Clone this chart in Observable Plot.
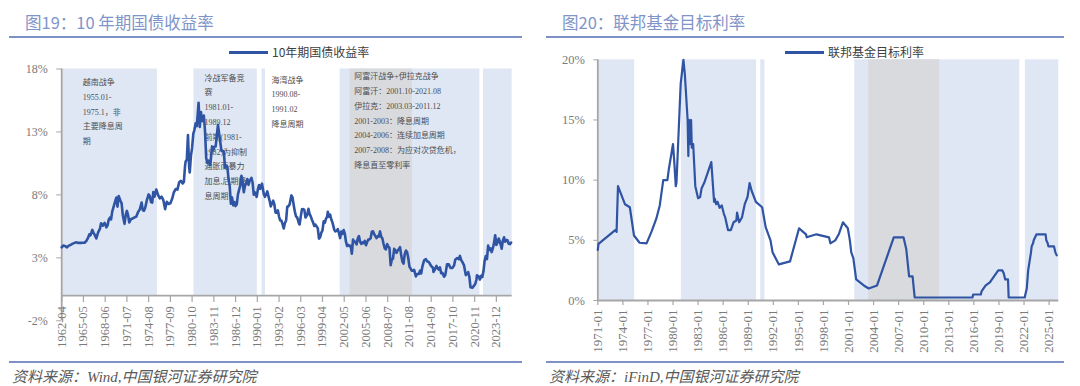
<!DOCTYPE html>
<html><head><meta charset="utf-8">
<script src="https://cdn.jsdelivr.net/npm/d3@7"></script>
<script src="https://cdn.jsdelivr.net/npm/@observablehq/plot@0.6"></script>
<style>
body{margin:0;background:#fff;}
#root{position:relative;width:1080px;height:386px;overflow:hidden;background:#fff;font-family:"Noto Sans CJK SC",sans-serif;}
.title{position:absolute;top:11px;font-size:16.5px;color:#7f95c9;line-height:22px;white-space:nowrap;}
.rule{position:absolute;height:2px;background:#7d91c6;}
.legend{position:absolute;top:44px;height:16px;font-size:12px;color:#404040;line-height:16px;white-space:nowrap;display:flex;align-items:center;}
.legend .sw{display:inline-block;width:39px;height:3px;background:#2f54a3;margin-right:4px;}
.source{position:absolute;top:367px;font-size:15px;font-style:italic;color:#595959;font-family:"Liberation Serif","Noto Sans CJK SC",serif;line-height:20px;white-space:nowrap;}
.chart{position:absolute;top:0;}
</style></head>
<body><div id="root">
<div class="chart" id="c1" style="left:0"></div>
<div class="chart" id="c2" style="left:540px"></div>
<div class="title" style="left:25px">图19：10 年期国债收益率</div>
<div class="title" style="left:562px">图20：联邦基金目标利率</div>
<div class="rule" style="left:9px;width:513px;top:36px"></div>
<div class="rule" style="left:546px;width:518px;top:36px"></div>
<div class="legend" style="left:229px"><span class="sw"></span><span>10年期国债收益率</span></div>
<div class="legend" style="left:785px"><span class="sw"></span><span>联邦基金目标利率</span></div>
<div class="rule" style="left:9px;width:513px;top:361px"></div>
<div class="rule" style="left:546px;width:518px;top:361px"></div>
<div class="source" style="left:12px">资料来源：Wind,中国银河证券研究院</div>
<div class="source" style="left:549px">资料来源：iFinD,中国银河证券研究院</div>
</div>
<script>
// ---------- Figure 19: US 10Y Treasury yield (%) ----------
const tyMonths = [
"1962-04","1962-07","1962-10",
"1963-01","1963-04","1963-07","1963-10",
"1964-01","1964-04","1964-07","1964-10",
"1965-01","1965-04","1965-07","1965-10",
"1966-01","1966-03","1966-05","1966-08","1966-10","1966-12",
"1967-03","1967-06","1967-09","1967-11",
"1968-02","1968-05","1968-08","1968-10","1968-12",
"1969-02","1969-04","1969-06","1969-09","1969-12",
"1970-01","1970-03","1970-05","1970-08","1970-10","1970-12",
"1971-03","1971-05","1971-07","1971-09","1971-11",
"1972-02","1972-05","1972-08","1972-11",
"1973-02","1973-05","1973-08","1973-10","1973-12",
"1974-02","1974-05","1974-08","1974-10","1974-12",
"1975-02","1975-04","1975-06","1975-09","1975-12",
"1976-03","1976-06","1976-09","1976-12",
"1977-03","1977-06","1977-09","1977-12",
"1978-03","1978-06","1978-09","1978-12",
"1979-03","1979-06","1979-08","1979-10","1979-11",
"1980-01","1980-03","1980-05","1980-06","1980-08","1980-10","1980-12",
"1981-02","1981-04","1981-06","1981-09","1981-11",
"1982-01","1982-03","1982-06","1982-08","1982-10","1982-12",
"1983-02","1983-05","1983-08","1983-10","1983-12",
"1984-02","1984-04","1984-06","1984-08","1984-10","1984-12",
"1985-02","1985-04","1985-06","1985-08","1985-10","1985-12",
"1986-02","1986-04","1986-06","1986-08","1986-10","1986-12",
"1987-02","1987-04","1987-06","1987-08","1987-10","1987-12",
"1988-02","1988-04","1988-06","1988-08","1988-10","1988-12",
"1989-03","1989-05","1989-07","1989-09","1989-12",
"1990-02","1990-04","1990-06","1990-09","1990-12",
"1991-02","1991-04","1991-06","1991-08","1991-10","1991-12",
"1992-02","1992-04","1992-06","1992-08","1992-10","1992-12",
"1993-02","1993-04","1993-06","1993-08","1993-10","1993-12",
"1994-02","1994-04","1994-06","1994-08","1994-11",
"1995-01","1995-03","1995-05","1995-07","1995-09","1995-12",
"1996-01","1996-03","1996-05","1996-07","1996-09","1996-11",
"1997-02","1997-04","1997-06","1997-08","1997-10","1997-12",
"1998-02","1998-04","1998-06","1998-08","1998-10","1998-12",
"1999-02","1999-04","1999-06","1999-08","1999-10","1999-12",
"2000-01","2000-03","2000-05","2000-07","2000-09","2000-12",
"2001-02","2001-04","2001-06","2001-08","2001-10","2001-12",
"2002-02","2002-04","2002-06","2002-08","2002-10","2002-12",
"2003-02","2003-04","2003-06","2003-08","2003-10","2003-12",
"2004-02","2004-04","2004-06","2004-08","2004-10","2004-12",
"2005-02","2005-04","2005-06","2005-08","2005-10","2005-12",
"2006-02","2006-04","2006-06","2006-08","2006-10","2006-12",
"2007-02","2007-04","2007-06","2007-08","2007-10","2007-12",
"2008-02","2008-04","2008-06","2008-08","2008-10","2008-12",
"2009-02","2009-04","2009-06","2009-08","2009-10","2009-12",
"2010-02","2010-04","2010-06","2010-08","2010-10","2010-12",
"2011-02","2011-04","2011-06","2011-08","2011-10","2011-12",
"2012-02","2012-04","2012-07","2012-09","2012-12",
"2013-02","2013-04","2013-06","2013-09","2013-12",
"2014-02","2014-04","2014-06","2014-08","2014-10","2014-12",
"2015-01","2015-03","2015-06","2015-08","2015-10","2015-12",
"2016-02","2016-04","2016-07","2016-09","2016-12",
"2017-03","2017-06","2017-09","2017-12",
"2018-02","2018-05","2018-08","2018-10","2018-12",
"2019-02","2019-05","2019-08","2019-10","2019-12",
"2020-02","2020-04","2020-07","2020-10","2020-12",
"2021-02","2021-03","2021-06","2021-08","2021-10","2021-12",
"2022-02","2022-04","2022-06","2022-08","2022-10","2022-12",
"2023-02","2023-04","2023-06","2023-08","2023-10","2023-12",
"2024-02","2024-04","2024-06","2024-09","2024-11",
"2025-01","2025-03","2025-05","2025-07","2025-09","2025-11",
"2026-01"
];
const tyValues = [
3.84,3.98,3.93,
3.83,3.97,4.02,4.11,
4.17,4.23,4.19,4.19,
4.19,4.20,4.20,4.35,
4.61,4.87,4.78,5.22,5.01,4.84,
4.54,5.02,5.30,5.75,
5.56,5.78,5.42,5.58,6.03,
6.19,6.05,6.67,7.16,7.65,
7.79,7.07,7.91,7.53,7.33,6.39,
5.70,6.39,6.73,6.38,5.81,
6.08,6.13,6.21,6.28,
6.64,6.85,7.40,6.79,6.74,
6.96,7.58,8.04,7.90,7.43,
7.39,8.23,7.86,8.43,8.00,
7.73,7.86,7.59,6.87,
7.46,7.28,7.34,7.69,
8.21,8.46,8.42,9.01,
9.12,8.91,9.03,10.30,10.65,
10.80,12.75,10.18,9.78,11.10,11.75,12.84,
13.19,13.68,13.47,15.32,13.39,
14.59,13.86,14.30,13.06,10.91,10.54,
10.72,10.38,11.85,11.54,11.83,
11.84,12.65,13.56,12.87,12.16,11.50,
11.51,11.43,10.16,10.33,10.24,9.26,
8.70,7.30,7.80,7.17,7.43,7.11,
7.25,8.02,8.40,8.76,9.52,8.99,
8.21,8.72,8.92,9.26,8.80,9.11,
9.36,8.98,8.02,8.19,7.84,
8.47,8.79,8.48,8.89,8.08,
7.85,8.04,8.28,7.90,7.53,7.09,
7.34,7.54,7.26,6.59,6.59,6.77,
6.26,5.97,5.96,5.68,5.33,5.77,
5.97,7.06,7.10,7.24,7.96,
7.78,7.20,6.66,6.28,6.20,5.71,
5.65,6.27,6.85,6.87,6.83,6.20,
6.42,6.89,6.49,6.30,6.03,5.81,
5.53,5.64,5.50,5.34,4.53,4.65,
5.00,5.18,5.90,5.79,6.11,6.28,
6.66,6.26,6.44,6.05,5.80,5.24,
5.10,5.14,5.28,4.97,4.57,5.09,
4.91,5.21,4.93,4.26,3.94,4.03,
3.92,3.96,3.33,4.45,4.29,4.27,
4.06,4.53,4.73,4.28,4.10,4.23,
4.17,4.34,4.00,4.26,4.46,4.47,
4.57,5.07,5.11,4.88,4.73,4.56,
4.72,4.69,5.10,4.67,4.53,4.10,
3.74,3.68,4.10,3.89,3.81,2.42,
2.87,2.93,3.72,3.59,3.39,3.59,
3.69,3.85,3.20,2.70,2.54,3.29,
3.58,3.46,3.00,2.30,2.15,1.98,
1.97,2.05,1.53,1.72,1.72,
1.98,1.76,2.30,2.81,2.90,
2.71,2.71,2.60,2.42,2.30,2.21,
1.88,2.04,2.36,2.17,2.07,2.24,
1.78,1.81,1.50,1.63,2.49,
2.48,2.19,2.20,2.40,
2.86,2.98,2.89,3.15,2.83,
2.68,2.40,1.63,1.71,1.86,
1.50,0.66,0.62,0.79,0.93,
1.26,1.61,1.52,1.28,1.58,1.47,
1.93,2.75,3.14,2.90,3.98,3.62,
3.75,3.46,3.75,4.17,4.80,4.02,
4.21,4.54,4.30,3.72,4.36,
4.63,4.28,4.42,4.39,4.12,4.09,
4.21
];
const leftXTicks = ["1962-04","1965-05","1968-06","1971-07","1974-08","1977-09","1980-10","1983-11","1986-12","1990-01","1993-02","1996-03","1999-04","2002-05","2005-06","2008-07","2011-08","2014-09","2017-10","2020-11","2023-12"];
const leftYTicks = [-2, 3, 8, 13, 18];
const leftBandStarts = ["1962-04","1981-01","1990-09","2001-10","2003-03","2022-02"];
const leftBandEnds   = ["1975-11","1990-01","1991-03","2021-08","2012-01","2026-03"];
const leftBandKinds  = ["war","war","war","war","iraq","war"];
const noteVietnam = ["越南战争","1955.01-","1975.1，非","主要降息周","期"];
const noteColdWar = ["冷战军备竞","赛","1981.01-","1989.12","前期(1981-","1982)为抑制","通胀而暴力","加息,后期降","息周期"];
const noteGulf = ["海湾战争","1990.08-","1991.02","降息周期"];
const noteAfIraq = ["阿富汗战争+伊拉克战争","阿富汗：2001.10-2021.08","伊拉克：2003.03-2011.12","2001-2003：降息周期","2004-2006：连续加息周期","2007-2008：为应对次贷危机，","降息直至零利率"];

// ---------- Figure 20: Fed funds target rate (%) ----------
const fedMonths = [
"1971-01","1971-02","1973-02","1973-04","1973-06","1974-04","1974-11","1975-05","1976-01","1976-11",
"1977-06","1978-01","1978-06","1978-11","1979-05","1979-07","1980-01","1980-03","1980-05","1980-06",
"1980-12","1981-04","1981-06","1981-10","1981-11","1981-12","1982-02","1982-03","1982-04","1982-06",
"1982-09","1983-01","1983-04","1983-06","1983-10","1984-08","1984-12","1985-01","1985-03","1985-05",
"1985-08","1985-11","1986-02","1986-04","1986-08","1986-12","1987-04","1987-08","1987-09","1987-12",
"1988-04","1988-08","1988-12","1989-03","1989-06","1989-12","1990-09","1991-02","1991-09","1991-12",
"1992-09","1994-01","1995-02","1995-07","1995-12","1996-01","1997-03","1998-09","1998-11","1999-06",
"1999-11","2000-05","2000-12","2001-03","2001-05","2001-08","2001-12","2002-11","2003-06","2004-06",
"2006-06","2007-08","2007-12","2008-04","2008-09","2008-12","2015-11","2015-12","2016-11","2016-12",
"2017-03","2017-06","2017-12","2018-03","2018-06","2018-09","2018-12","2019-06","2019-08","2019-10",
"2020-02","2020-03","2022-02","2022-03","2022-05","2022-06","2022-07","2022-09","2022-11","2022-12",
"2023-02","2023-03","2023-05","2023-07","2024-08","2024-09","2024-11","2024-12","2025-08","2025-09",
"2025-10","2025-12"
];
const fedValues = [
4.2,4.7,5.85,5.7,9.5,8.0,7.75,5.4,4.8,4.75,
5.7,6.8,7.9,10.0,10.0,10.9,13.0,11.4,9.5,9.8,
18.0,20.0,18.8,15.0,12.0,15.0,13.0,15.0,12.7,13.0,
9.5,8.5,8.6,9.3,9.8,11.5,8.2,8.45,8.0,8.2,
7.7,7.9,7.2,6.9,5.85,5.85,6.5,6.65,7.3,6.5,
6.9,8.0,8.6,9.75,9.1,8.2,7.75,6.1,5.0,4.0,
3.0,3.25,6.0,5.75,5.5,5.25,5.5,5.25,4.75,5.0,
5.5,6.5,6.0,5.0,4.0,3.5,1.75,1.25,1.0,1.25,
5.25,5.25,4.25,2.0,2.0,0.25,0.25,0.5,0.5,0.75,
1.0,1.25,1.5,1.75,2.0,2.25,2.5,2.5,2.25,1.75,
1.75,0.25,0.25,0.5,1.0,1.75,2.5,3.25,4.0,4.5,
4.75,5.0,5.25,5.5,5.5,5.0,4.75,4.5,4.5,4.25,
4.0,3.75
];
const rightXTicks = ["1971-01","1974-01","1977-01","1980-01","1983-01","1986-01","1989-01","1992-01","1995-01","1998-01","2001-01","2004-01","2007-01","2010-01","2013-01","2016-01","2019-01","2022-01","2025-01"];
const rightYTicks = [0, 5, 10, 15, 20];
const rightBandStarts = ["1971-01","1981-01","1990-07","2001-10","2003-06","2022-03"];
const rightBandEnds   = ["1975-06","1990-01","1991-01","2021-07","2011-12","2026-03"];
const rightBandKinds  = ["war","war","war","war","iraq","war"];

// ---------- build ----------
const parse = d3.utcParse("%Y-%m");
const lineColor = "#2f54a3";
const bandFill = k => k === "iraq" ? "#d9dade" : "#e0e7f4";
const axisGray = "#a6a6a6";
const labelGray = "#7a7a7a";
const serif = "'Liberation Serif','Noto Sans CJK SC',serif";

const tyData = tyMonths.map((m, i) => ({date: parse(m), value: tyValues[i]}));
const fedData = fedMonths.map((m, i) => ({date: parse(m), value: fedValues[i]}));
const leftBands = leftBandStarts.map((s, i) => ({x1: parse(s), x2: parse(leftBandEnds[i]), kind: leftBandKinds[i]}));
const rightBands = rightBandStarts.map((s, i) => ({x1: parse(s), x2: parse(rightBandEnds[i]), kind: rightBandKinds[i]}));
const leftNotes = [
  {at: parse("1965-04"), top: 17.57, text: noteVietnam.join("\n")},
  {at: parse("1982-07"), top: 17.92, text: noteColdWar.join("\n")},
  {at: parse("1992-01"), top: 17.76, text: noteGulf.join("\n")},
  {at: parse("2003-10"), top: 18.02, text: noteAfIraq.join("\n")}
];

const svgStyle = {background: "transparent", fontFamily: serif, fontSize: "12px", color: labelGray, overflow: "visible"};

const left = Plot.plot({
  width: 540, height: 360,
  marginLeft: 61.2, marginRight: 28.3, marginTop: 68.5, marginBottom: 39.7,
  style: svgStyle,
  x: {type: "utc", domain: [parse("1962-04"), parse("2026-03")], axis: null},
  y: {domain: [-2, 18]},
  marks: [
    Plot.rect(leftBands, {x1: "x1", x2: "x2", y1: 0, y2: 18, fill: d => bandFill(d.kind)}),
    Plot.ruleY([0], {stroke: axisGray, strokeWidth: 1.8}),
    Plot.ruleX([parse("1962-04")], {y1: -2, y2: 18, stroke: axisGray, strokeWidth: 1.8}),
    Plot.ruleX(leftXTicks, {x: d => parse(d), y1: 0, y2: -0.55, stroke: axisGray, strokeWidth: 1.2}),
    Plot.text(leftXTicks, {x: d => parse(d), y: 0, text: d => d, rotate: -90, textAnchor: "end", lineAnchor: "middle", dy: 10.5, fontSize: 12.5, fill: labelGray}),
    Plot.axisY({ticks: leftYTicks, tickFormat: d => `${d}%`, tickSize: 5, tickPadding: 9, stroke: axisGray, fill: labelGray, fontSize: 12, label: null}),
    Plot.text(leftNotes, {x: "at", y: "top", text: "text", textAnchor: "start", lineAnchor: "top", lineHeight: 1.85, fontSize: 8, fill: "#4d4d4d", fontFamily: serif}),
    Plot.line(tyData, {x: "date", y: "value", stroke: lineColor, strokeWidth: 2.6, strokeLinejoin: "round"})
  ]
});
document.getElementById("c1").appendChild(left);

const right = Plot.plot({
  width: 540, height: 360,
  marginLeft: 57.3, marginRight: 21.7, marginTop: 59.3, marginBottom: 60,
  style: svgStyle,
  x: {type: "utc", domain: [parse("1971-01"), parse("2026-03")], axis: null},
  y: {domain: [0, 20]},
  marks: [
    Plot.rect(rightBands, {x1: "x1", x2: "x2", y1: 0, y2: 20, fill: d => bandFill(d.kind)}),
    Plot.ruleY([0], {stroke: axisGray, strokeWidth: 1.8}),
    Plot.ruleX([parse("1971-01")], {y1: 0, y2: 20, stroke: axisGray, strokeWidth: 1.8}),
    Plot.ruleX(rightXTicks, {x: d => parse(d), y1: 0, y2: -0.42, stroke: axisGray, strokeWidth: 1.2}),
    Plot.text(rightXTicks, {x: d => parse(d), y: 0, text: d => d, rotate: -90, textAnchor: "end", lineAnchor: "middle", dy: 9, fontSize: 13, fill: labelGray}),
    Plot.axisY({ticks: rightYTicks, tickFormat: d => `${d}%`, tickSize: 4, tickPadding: 9, stroke: axisGray, fill: labelGray, fontSize: 12.5, label: null}),
    Plot.line(fedData, {x: "date", y: "value", stroke: lineColor, strokeWidth: 2.2, strokeLinejoin: "round"})
  ]
});
document.getElementById("c2").appendChild(right);
</script>
</body></html>
